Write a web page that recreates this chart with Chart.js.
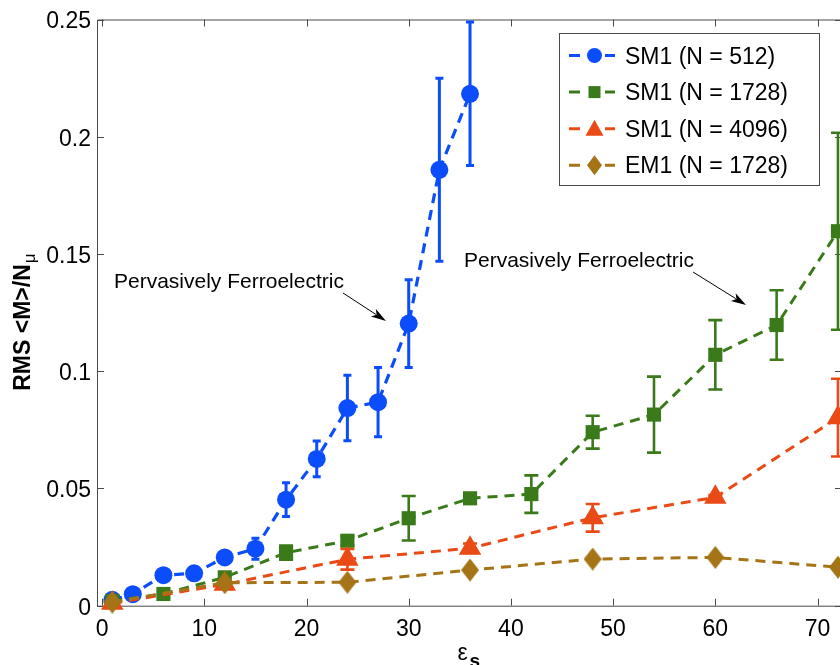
<!DOCTYPE html>
<html>
<head>
<meta charset="utf-8">
<script src="https://cdn.jsdelivr.net/npm/chart.js@4.4.0/dist/chart.umd.min.js"></script>
<style>
  html, body { margin: 0; padding: 0; background: #fff; }
</style>
</head>
<body>
<canvas id="myChart" width="840" height="665"></canvas>
<script>
// ---- data ----
var xTicks = [0, 10, 20, 30, 40, 50, 60, 70];
var yTicks = [0, 0.05, 0.1, 0.15, 0.2, 0.25];

var epsSM512 = [1, 3, 6, 9, 12, 15, 18, 21, 24, 27, 30, 33, 36];
var rmsSM512 = [0.0025, 0.0049, 0.0130, 0.0138, 0.0206, 0.0243, 0.0452, 0.0626, 0.0843, 0.0868, 0.1203, 0.1859, 0.2183];
var errSM512 = [0, 0, 0, 0, 0.0015, 0.0045, 0.0072, 0.0076, 0.0140, 0.0148, 0.0187, 0.0390, 0.0306];

var epsSM1728 = [1, 6, 12, 18, 24, 30, 36, 42, 48, 54, 60, 66, 72];
var rmsSM1728 = [0.0020, 0.0050, 0.0121, 0.0226, 0.0277, 0.0373, 0.0458, 0.0476, 0.0740, 0.0815, 0.1070, 0.1197, 0.1597];
var errSM1728 = [0, 0, 0, 0.0030, 0.0020, 0.0095, 0.0020, 0.0080, 0.0070, 0.0162, 0.0148, 0.0148, 0.0420];

var epsSM4096 = [1, 12, 24, 36, 48, 60, 72];
var rmsSM4096 = [0.0010, 0.0091, 0.0198, 0.0245, 0.0375, 0.0462, 0.0802];
var errSM4096 = [0, 0, 0.0044, 0.0020, 0.0059, 0.0010, 0.0166];

var epsEM1728 = [1, 12, 24, 36, 48, 60, 72];
var rmsEM1728 = [0.0015, 0.0098, 0.0100, 0.0152, 0.0199, 0.0206, 0.0164];

var seriesNames = ['SM1 (N = 512)', 'SM1 (N = 1728)', 'SM1 (N = 4096)', 'EM1 (N = 1728)'];

var X_MIN = -0.5, X_MAX = 72.2;
var BLUE = '#0b4cfb', GREEN = '#3a7a1a', ORANGE = '#ea4a16', GOLD = '#a57417';
var FONT = '"Liberation Sans", Arial, Helvetica, sans-serif';

function pts(xs, ys) {
  return xs.map(function(x, i) { return { x: x, y: ys[i] }; });
}

// tall diamond marker
function diamond(w, h, color) {
  var c = document.createElement('canvas');
  c.width = w; c.height = h;
  var g = c.getContext('2d');
  g.fillStyle = color;
  g.beginPath();
  g.moveTo(w / 2, 0); g.lineTo(w, h / 2); g.lineTo(w / 2, h); g.lineTo(0, h / 2);
  g.closePath();
  g.fill();
  return c;
}

// vertical error bars with caps, drawn under each series' markers
var errorBars = {
  id: 'errorBars',
  beforeDatasetDraw: function(chart, args) {
    var ds = chart.data.datasets[args.index];
    if (!ds.errors) return;
    var xs = chart.scales.x, ys = chart.scales.y, ctx = chart.ctx;
    ctx.save();
    ctx.strokeStyle = ds.borderColor;
    ctx.lineWidth = ds.errWidth;
    ctx.setLineDash([]);
    ds.data.forEach(function(p, i) {
      var e = ds.errors[i];
      if (!e) return;
      var px = xs.getPixelForValue(p.x);
      var top = ys.getPixelForValue(p.y + e);
      var bot = ys.getPixelForValue(p.y - e);
      ctx.beginPath();
      ctx.moveTo(px, top); ctx.lineTo(px, bot);
      ctx.moveTo(px - ds.capHalf, top); ctx.lineTo(px + ds.capHalf, top);
      ctx.moveTo(px - ds.capHalf, bot); ctx.lineTo(px + ds.capHalf, bot);
      ctx.stroke();
    });
    ctx.restore();
  }
};

// box frame with inward tick marks on all sides
var frame = {
  id: 'frame',
  beforeDatasetsDraw: function(chart) {
    var a = chart.chartArea, ctx = chart.ctx, xs = chart.scales.x, ys = chart.scales.y;
    var L = 7;
    ctx.save();
    ctx.strokeStyle = '#4a4a4a';
    ctx.lineWidth = 1;
    ctx.beginPath();
    ctx.moveTo(a.right + 5, a.top + 0.5); ctx.lineTo(a.left + 0.5, a.top + 0.5);
    ctx.lineTo(a.left + 0.5, a.bottom + 0.5); ctx.lineTo(a.right + 5, a.bottom + 0.5);
    xs.ticks.forEach(function(t) {
      var px = Math.round(xs.getPixelForValue(t.value)) + 0.5;
      ctx.moveTo(px, a.bottom); ctx.lineTo(px, a.bottom - L);
      ctx.moveTo(px, a.top); ctx.lineTo(px, a.top + L);
    });
    ys.ticks.forEach(function(t) {
      var py = Math.round(ys.getPixelForValue(t.value)) + 0.5;
      ctx.moveTo(a.left, py); ctx.lineTo(a.left + L, py);
      ctx.moveTo(a.right + 2, py); ctx.lineTo(a.right + 2 - L, py);
    });
    ctx.stroke();
    ctx.restore();
  }
};

function marker(ctx, kind, x, y, color) {
  ctx.fillStyle = color;
  ctx.beginPath();
  if (kind === 'circle') {
    ctx.arc(x, y, 7.5, 0, Math.PI * 2);
  } else if (kind === 'rect') {
    ctx.rect(x - 6, y - 6, 12, 12);
  } else if (kind === 'triangle') {
    ctx.moveTo(x, y - 9); ctx.lineTo(x + 9, y + 7); ctx.lineTo(x - 9, y + 7);
  } else {
    ctx.moveTo(x, y - 10); ctx.lineTo(x + 7.5, y); ctx.lineTo(x, y + 10); ctx.lineTo(x - 7.5, y);
  }
  ctx.closePath();
  ctx.fill();
}

function arrow(ctx, x0, y0, x1, y1) {
  var ang = Math.atan2(y1 - y0, x1 - x0), len = 15, half = 4.5;
  ctx.strokeStyle = '#000';
  ctx.lineWidth = 1;
  ctx.beginPath();
  ctx.moveTo(x0, y0);
  ctx.lineTo(x1 - Math.cos(ang) * len * 0.8, y1 - Math.sin(ang) * len * 0.8);
  ctx.stroke();
  ctx.fillStyle = '#000';
  ctx.beginPath();
  ctx.moveTo(x1, y1);
  ctx.lineTo(x1 - Math.cos(ang) * len - Math.sin(ang) * half, y1 - Math.sin(ang) * len + Math.cos(ang) * half);
  ctx.lineTo(x1 - Math.cos(ang) * len * 0.75, y1 - Math.sin(ang) * len * 0.75);
  ctx.lineTo(x1 - Math.cos(ang) * len + Math.sin(ang) * half, y1 - Math.sin(ang) * len - Math.cos(ang) * half);
  ctx.closePath();
  ctx.fill();
}

// legend, axis titles and annotations
var decorations = {
  id: 'decorations',
  afterDraw: function(chart) {
    var ctx = chart.ctx, a = chart.chartArea;
    ctx.save();

    // legend box
    var colors = [BLUE, GREEN, ORANGE, GOLD];
    var kinds = ['circle', 'rect', 'triangle', 'diamond'];
    ctx.fillStyle = '#fff';
    ctx.fillRect(559.5, 33.5, 260, 152);
    ctx.strokeStyle = '#4a4a4a';
    ctx.lineWidth = 1;
    ctx.strokeRect(559.5, 33.5, 260, 152);
    ctx.font = '23px ' + FONT;
    ctx.textBaseline = 'alphabetic';
    ctx.textAlign = 'left';
    for (var i = 0; i < 4; i++) {
      var cy = 55.5 + i * 36.6;
      ctx.strokeStyle = colors[i];
      ctx.lineWidth = 3;
      ctx.beginPath();
      ctx.moveTo(569, cy); ctx.lineTo(580, cy);
      ctx.moveTo(605, cy); ctx.lineTo(615, cy);
      ctx.stroke();
      marker(ctx, kinds[i], 594.5, cy, colors[i]);
      ctx.fillStyle = '#000';
      ctx.fillText(seriesNames[i], 625, cy + 8);
    }

    // annotations
    ctx.font = '21px ' + FONT;
    ctx.fillStyle = '#000';
    ctx.fillText('Pervasively Ferroelectric', 114, 288);
    ctx.fillText('Pervasively Ferroelectric', 464, 267);
    arrow(ctx, 343, 293, 386, 321);
    arrow(ctx, 693, 272, 746, 305);

    // y axis title, read bottom to top
    ctx.save();
    ctx.translate(30, (a.top + a.bottom) / 2 + 10);
    ctx.rotate(-Math.PI / 2);
    ctx.font = 'bold 23px ' + FONT;
    var main = 'RMS <M>/N';
    var w1 = ctx.measureText(main).width;
    ctx.font = '17px ' + FONT;
    var w2 = ctx.measureText('\u03bc').width;
    var x0 = -(w1 + w2) / 2;
    ctx.font = 'bold 23px ' + FONT;
    ctx.fillText(main, x0, 0);
    ctx.font = '17px ' + FONT;
    ctx.fillText('\u03bc', x0 + w1 + 1, 5);
    ctx.restore();

    // x axis title
    var cx = (a.left + a.right) / 2;
    ctx.font = '23px ' + FONT;
    ctx.fillText('\u03b5', cx - 11, 660);
    ctx.font = 'bold 19px ' + FONT;
    ctx.fillText('s', cx + 1, 667);

    ctx.restore();
  }
};

var ctx = document.getElementById('myChart').getContext('2d');
var myChart = new Chart(ctx, {
  type: 'line',
  data: {
    datasets: [{
      label: seriesNames[0],
      data: pts(epsSM512, rmsSM512),
      errors: errSM512, errWidth: 3, capHalf: 4,
      borderColor: BLUE, backgroundColor: BLUE,
      borderWidth: 3.2, borderDash: [10, 7],
      pointStyle: 'circle', pointRadius: 9, pointBorderWidth: 0,
      order: 4
    }, {
      label: seriesNames[1],
      data: pts(epsSM1728, rmsSM1728),
      errors: errSM1728, errWidth: 2.6, capHalf: 7,
      borderColor: GREEN, backgroundColor: GREEN,
      borderWidth: 3, borderDash: [10, 7],
      pointStyle: 'rect', pointRadius: 10, pointBorderWidth: 0,
      order: 3
    }, {
      label: seriesNames[2],
      data: pts(epsSM4096, rmsSM4096),
      errors: errSM4096, errWidth: 2.6, capHalf: 7,
      borderColor: ORANGE, backgroundColor: ORANGE,
      borderWidth: 3, borderDash: [10, 7],
      pointStyle: 'triangle', pointRadius: 13, pointBorderWidth: 0,
      order: 2
    }, {
      label: seriesNames[3],
      data: pts(epsEM1728, rmsEM1728),
      borderColor: GOLD, backgroundColor: GOLD,
      borderWidth: 3, borderDash: [10, 7],
      pointStyle: diamond(18, 23, GOLD), pointRadius: 10,
      order: 1
    }]
  },
  options: {
    responsive: false,
    animation: false,
    devicePixelRatio: 1,
    clip: false,
    // no extra room for marker overflow: the plot box runs to the canvas edge
    layout: { autoPadding: false, padding: { top: 19.5, right: 0, left: 0, bottom: 0 } },
    elements: { line: { tension: 0, fill: false } },
    plugins: { legend: { display: false }, tooltip: { enabled: false } },
    scales: {
      x: {
        type: 'linear', min: X_MIN, max: X_MAX,
        afterBuildTicks: function(s) {
          s.ticks = xTicks.map(function(v) { return { value: v }; });
        },
        afterFit: function(s) { s.height = 59.3; s.paddingLeft = 0; s.paddingRight = 0; },
        grid: { display: false, drawTicks: false },
        border: { display: false },
        ticks: { font: { family: FONT, size: 23 }, color: '#000', padding: 10, maxRotation: 0, autoSkip: false }
      },
      y: {
        type: 'linear', min: 0, max: 0.25,
        afterBuildTicks: function(s) {
          s.ticks = yTicks.map(function(v) { return { value: v }; });
        },
        afterFit: function(s) { s.width = 97; s.paddingTop = 0; s.paddingBottom = 0; },
        grid: { display: false, drawTicks: false },
        border: { display: false },
        ticks: {
          font: { family: FONT, size: 23 }, color: '#000', padding: 6, labelOffset: 2.5,
          callback: function(v) { return String(parseFloat(v.toFixed(2))); }
        }
      }
    }
  },
  plugins: [frame, errorBars, decorations]
});
</script>
</body>
</html>
